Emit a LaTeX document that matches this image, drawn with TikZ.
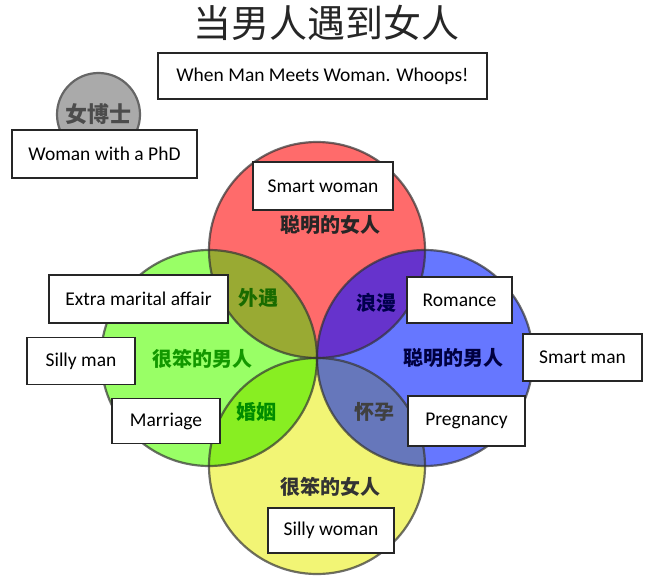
\documentclass[tikz,border=0pt]{standalone}
\usepackage{fontspec}
\setmainfont{Carlito}
\newfontfamily\cjk{Noto Sans CJK SC}
\usepackage{tikz}
\usetikzlibrary{positioning}

\definecolor{redfill}{HTML}{FF6B6B}
\definecolor{greenfill}{HTML}{99FF66}
\definecolor{bluefill}{HTML}{6677FF}
\definecolor{yellowfill}{HTML}{F2F575}
\definecolor{olivefill}{HTML}{99AA33}
\definecolor{purplefill}{HTML}{6633CC}
\definecolor{limefill}{HTML}{88EE22}
\definecolor{slatefill}{HTML}{6677BB}
\definecolor{phdfill}{HTML}{AAAAAA}

\begin{document}
\begin{tikzpicture}[
  x=1pt, y=-1pt,
  label/.style={draw=black!85, line width=1.2pt, fill=white, inner sep=0pt,
    font=\fontsize{19.5}{22}\selectfont},
  zh/.style={font=\cjk\bfseries\fontsize{20}{22}\selectfont, inner sep=0pt},
  rim/.style={draw=black!80, draw opacity=0.7, line width=2.2pt},
  rad/.style={radius=108pt}
]
\useasboundingbox (0,0) rectangle (647,578);

% ========== Title ==========
\node[font=\cjk\fontsize{38}{40}\selectfont, text=black!85] (title) at (326,23) {当男人遇到女人};
\node[label, minimum width=329pt, minimum height=46pt] (whoops) at (322.5,76) {When Man Meets Woman. Whoops!};

% ========== PhD circle ==========
\node[circle, draw=black!60, line width=2.2pt, fill=phdfill, minimum size=83pt,
  font=\cjk\bfseries\fontsize{22}{24}\selectfont, text=black!70] (phd) at (98.5,114.5) {女博士};
\node[label, minimum width=185pt, minimum height=48pt] (phdlbl) at (104.5,154) {Woman with a PhD};

% ========== Four circles ==========
\coordinate (mid) at (317,358);
\coordinate (cr) at (317,250);
\coordinate (cg) at (209,358);
\coordinate (cb) at (425,358);
\coordinate (cy) at (317,466);

\fill[redfill] (cr) circle[rad];
\fill[greenfill] (cg) circle[rad];
\fill[bluefill] (cb) circle[rad];
\fill[yellowfill] (cy) circle[rad];

% overlaps
\begin{scope}
  \clip (cr) circle[rad];
  \fill[olivefill] (cg) circle[rad];
  \fill[purplefill] (cb) circle[rad];
\end{scope}
\begin{scope}
  \clip (cy) circle[rad];
  \fill[limefill] (cg) circle[rad];
  \fill[slatefill] (cb) circle[rad];
\end{scope}

\draw[rim] (cr) circle[rad];
\draw[rim] (cg) circle[rad];
\draw[rim] (cb) circle[rad];
\draw[rim] (cy) circle[rad];

% ========== Chinese labels ==========
\node[zh, text=black!85] (smartw) at (330,225) {聪明的女人};
\node[zh, text=green!40!black!80!olive] (affair) at (258,298) {外遇};
\node[zh, text=blue!30!black] (romance) at (376,303) {浪漫};
\node[zh, text=green!55!black!90!lime] (sillym) at (202,359) {很笨的男人};
\node[zh, text=blue!25!black] (smartm) at (453,358) {聪明的男人};
\node[zh, text=green!55!black] (marriage) at (256,412) {婚姻};
\node[zh, text=black!75] (pregnancy) at (374,412) {怀孕};
\node[zh, text=black!80] (sillyw) at (330,487) {很笨的女人};

% ========== English boxes ==========
\node[label, minimum width=140pt, minimum height=48pt] (smartwlbl) at (323,186) {Smart woman};
\node[label, minimum width=179pt, minimum height=48pt] (affairlbl) at (138.5,299) {Extra marital affair};
\node[label, minimum width=105pt, minimum height=46pt] (romancelbl) at (459.5,300) {Romance};
\node[label, minimum width=108pt, minimum height=47pt] (sillymlbl) at (81,361) {Silly man};
\node[label, minimum width=119pt, minimum height=47pt] (smartmlbl) at (582.5,357.5) {Smart man};
\node[label, minimum width=108pt, minimum height=45pt] (marriagelbl) at (166,421) {Marriage};
\node[label, minimum width=117pt, minimum height=50pt] (pregnancylbl) at (466.5,421) {Pregnancy};
\node[label, minimum width=126pt, minimum height=45pt] (sillywlbl) at (331,530.5) {Silly woman};

\end{tikzpicture}
\end{document}
